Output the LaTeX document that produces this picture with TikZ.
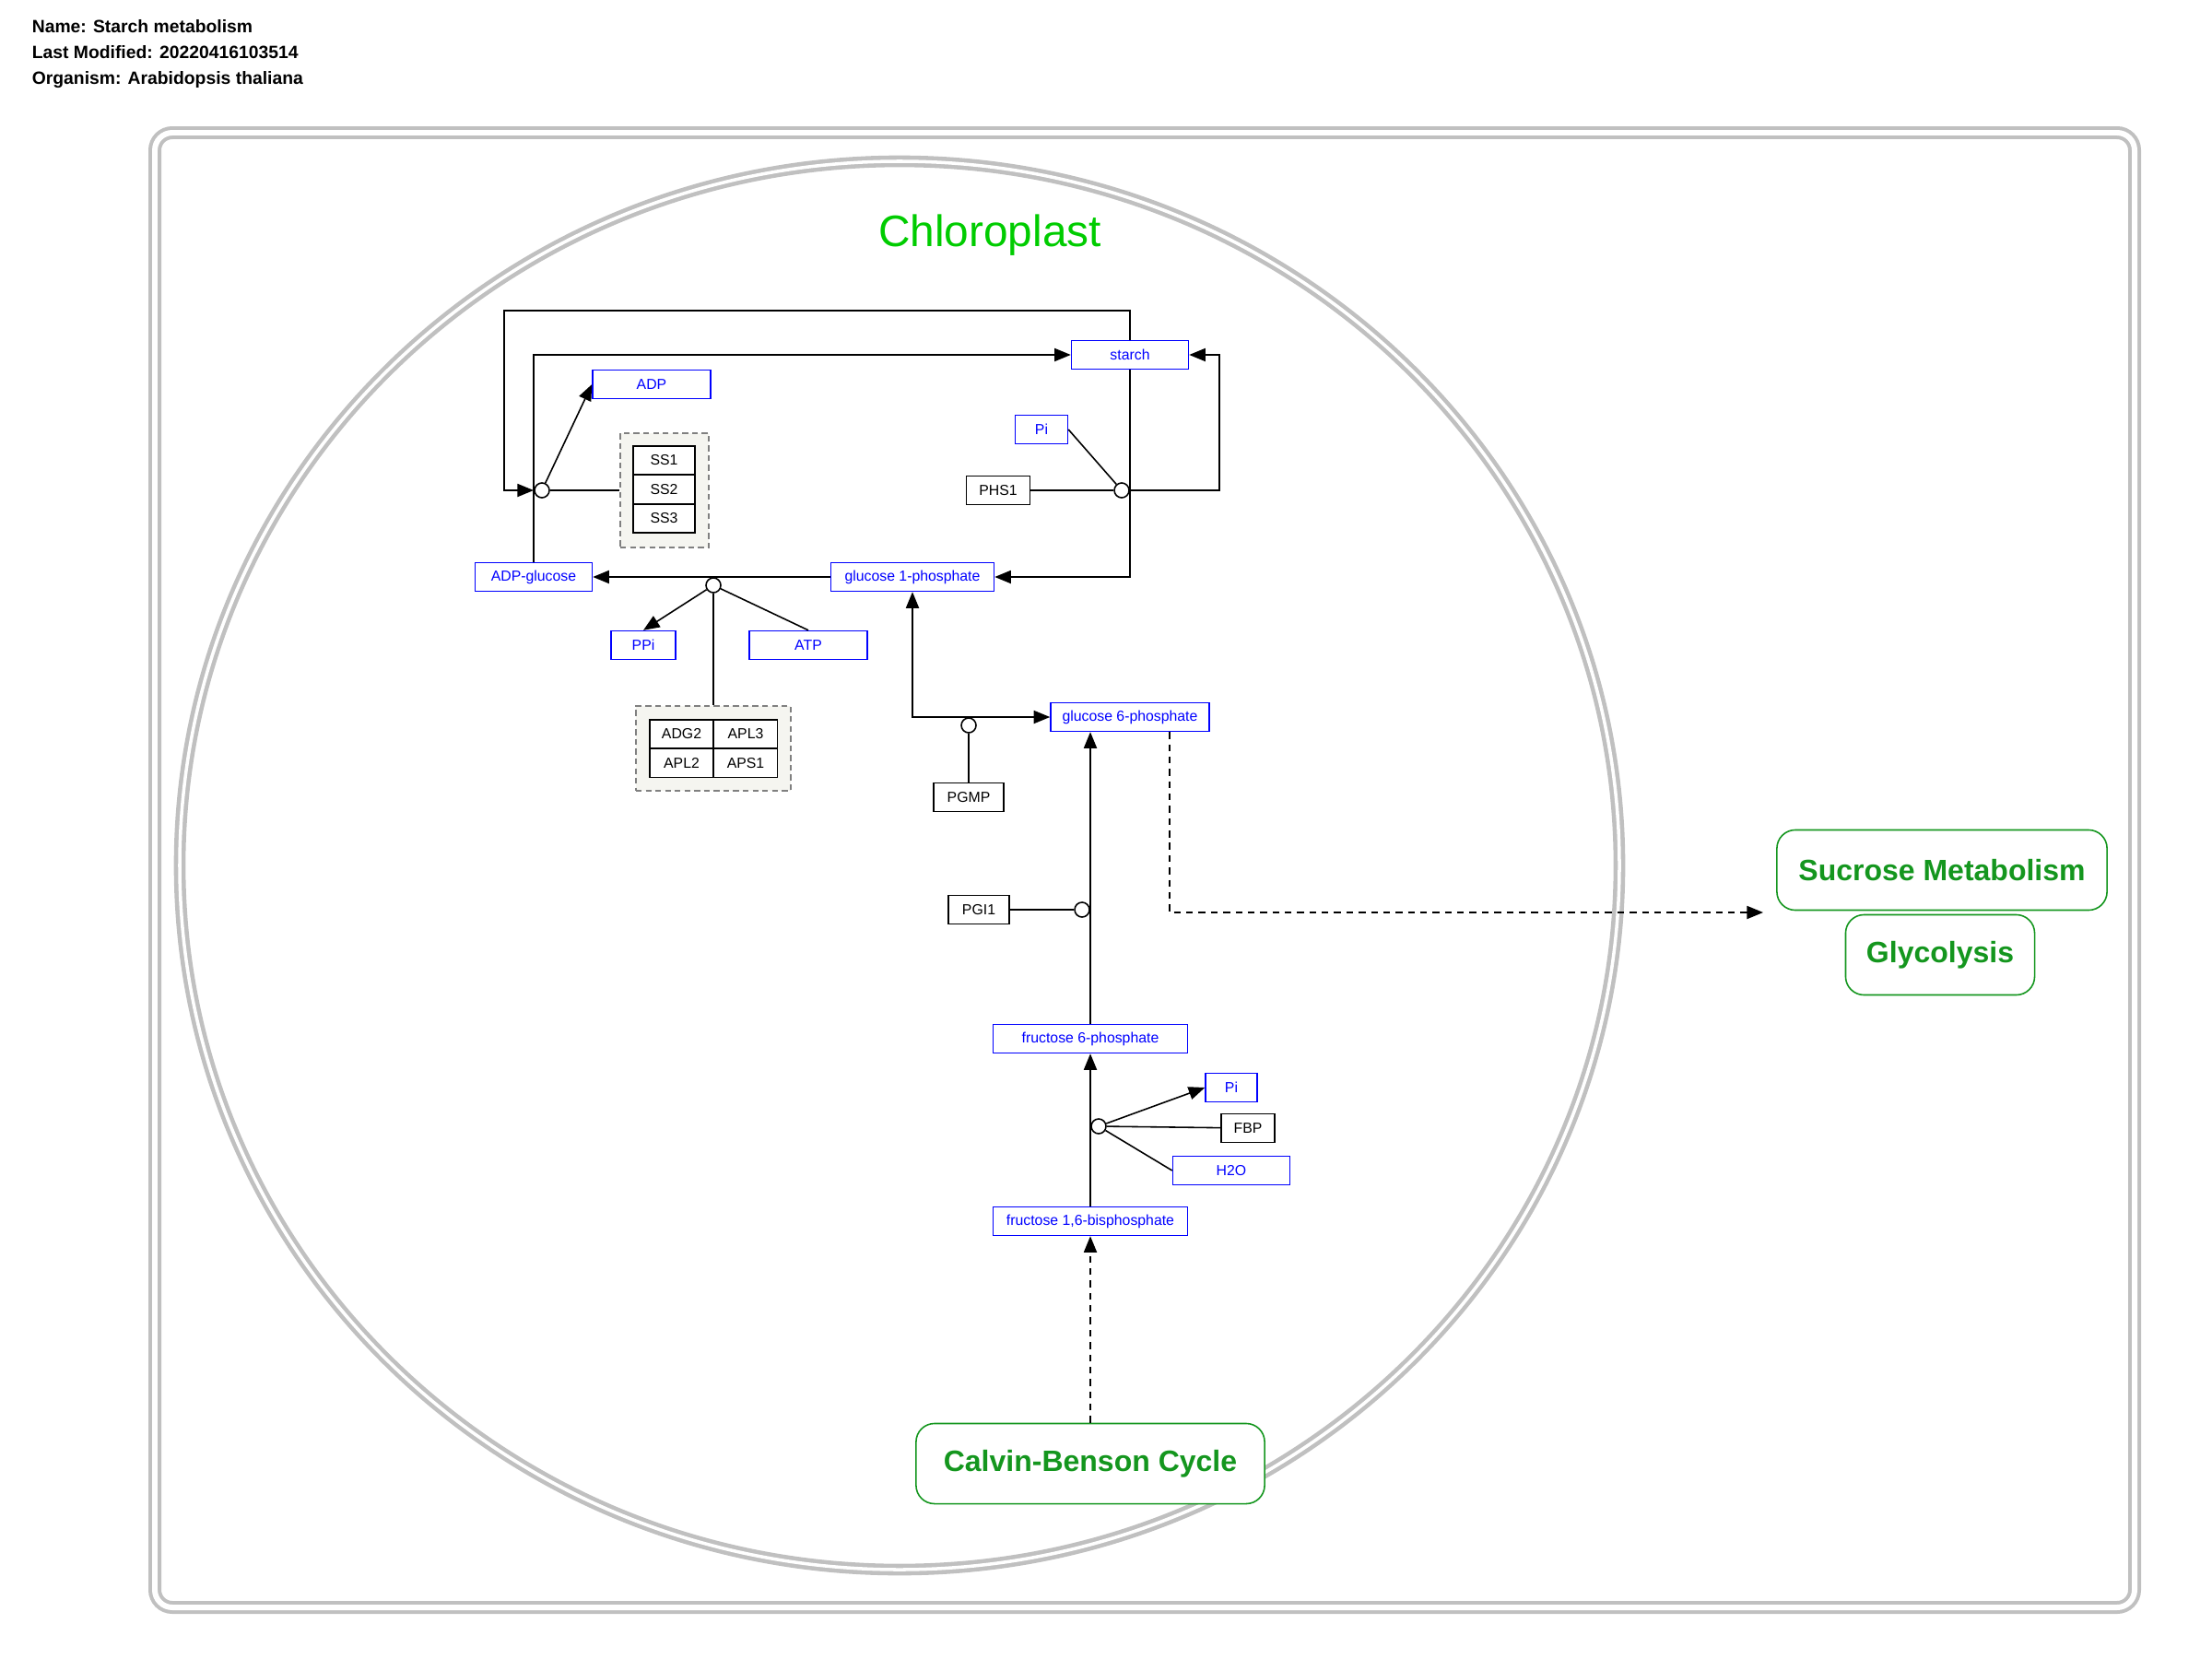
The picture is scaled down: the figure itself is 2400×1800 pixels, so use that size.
\documentclass[tikz,border=0pt]{standalone}
\usepackage{fontspec}
\setmainfont{Liberation Sans}
\usetikzlibrary{arrows.meta}

\definecolor{wallgray}{RGB}{192,192,192}
\definecolor{chlorogreen}{RGB}{0,204,0}
\definecolor{pathgreen}{RGB}{20,150,30}
\definecolor{cplxfill}{RGB}{245,245,240}

\begin{document}
\begin{tikzpicture}[x=0.01cm, y=-0.01cm, >={Triangle[length=5pt,width=4pt]}, line width=0.45pt]
\tikzstyle{box}=[rectangle, draw, line width=0.4pt, inner sep=0pt, minimum height=0.31cm, font=\fontsize{4.5}{5}\selectfont]
\tikzstyle{metabolite}=[box, draw=blue, text=blue, fill=white]
\tikzstyle{gene}=[box, draw=black, fill=white]
\tikzstyle{complex}=[rectangle, draw=black!50, line width=0.4pt, dash pattern=on 1.8pt off 1.2pt, fill=cplxfill, inner sep=0pt]
\tikzstyle{catdot}=[circle, draw, fill=white, inner sep=0pt, minimum size=0.16cm]
\tikzstyle{pathway}=[rectangle, rounded corners=0.2cm, draw=pathgreen, fill=white, text=pathgreen, line width=0.45pt, minimum height=0.87cm, font=\fontsize{9.1}{10}\selectfont\bfseries]
\tikzstyle{wall}=[draw=wallgray, double=white]
\tikzstyle{dash line}=[dash pattern=on 2.1pt off 1.7pt]
\tikzstyle{header}=[anchor=base west, inner sep=0pt, font=\fontsize{5.5}{6}\selectfont\bfseries]

\useasboundingbox (0,0) rectangle (2400,1800);

% header
\node[header] (name) at (34,36) {Name: Starch metabolism};
\node[header] (modified) at (34,64) {Last Modified: 20220416103514};
\node[header] (organism) at (34,92) {Organism: Arabidopsis thaliana};

% cell and chloroplast
\draw[wall, line width=1.14pt, double distance=1.7pt, rounded corners=0.19cm] (168,144) rectangle (2316,1744);
\draw[wall, line width=1.3pt, double distance=1pt] (976,939) ellipse [x radius=781, y radius=764];
\node[anchor=base, inner sep=0pt, text=chlorogreen, font=\fontsize{13.6}{15}\selectfont] (title) at (1074,268) {Chloroplast};

% metabolites and genes
\node[metabolite, minimum width=1.27cm] (starch) at (1226,385) {starch};
\node[metabolite, minimum width=1.28cm] (adp) at (707,417) {ADP};
\node[metabolite, minimum width=0.57cm] (pia) at (1130,466) {Pi};
\node[gene, minimum width=0.69cm] (phs) at (1083,532) {PHS1};
\node[metabolite, minimum width=1.77cm] (gonep) at (990,626) {glucose 1-phosphate};
\node[metabolite, minimum width=1.27cm] (adpglc) at (579,626) {ADP-glucose};
\node[metabolite, minimum width=0.70cm] (ppi) at (698,700) {PPi};
\node[metabolite, minimum width=1.28cm] (atp) at (877,700) {ATP};
\node[metabolite, minimum width=1.72cm] (gsixp) at (1226,778) {glucose 6-phosphate};
\node[gene, minimum width=0.76cm] (pgmp) at (1051,865) {PGMP};
\node[gene, minimum width=0.66cm] (pgi) at (1062,987) {PGI1};
\node[metabolite, minimum width=2.11cm] (fsixp) at (1183,1127) {fructose 6-phosphate};
\node[metabolite, minimum width=0.56cm] (pib) at (1336,1180) {Pi};
\node[gene, minimum width=0.58cm] (fbp) at (1354,1224) {FBP};
\node[metabolite, minimum width=1.27cm] (water) at (1336,1270) {H2O};
\node[metabolite, minimum width=2.11cm] (fbisp) at (1183,1325) {fructose 1,6-bisphosphate};

% complexes
\node[complex, minimum width=0.96cm, minimum height=1.24cm] (ssgrp) at (721,532) {};
\foreach \i in {1,2,3}
    \node[gene, minimum width=0.67cm] (ss\i) at (720.5, 468+31.5*\i) {SS\i};

\node[complex, minimum width=1.68cm, minimum height=0.92cm] (adggrp) at (774,812) {};
\foreach \gname/\gx/\gy in {ADG2/739.5/796.5, APL3/809/796.5, APL2/739.5/828, APS1/809/828}
    \node[gene, minimum width=0.69cm] (\gname) at (\gx,\gy) {\gname};

% pathways
\node[pathway, minimum width=3.78cm] (calvin) at (1183,1588) {Calvin-Benson Cycle};
\node[pathway, minimum width=3.58cm] (sucrose) at (2107,944) {Sucrose Metabolism};
\node[pathway, minimum width=2.05cm] (glyco) at (2105,1036) {Glycolysis};

% catalysis dots
\node[catdot] (dss) at (588,532) {};
\node[catdot] (dphs) at (1217,532) {};
\node[catdot] (dadg) at (774,635) {};
\node[catdot] (dpgm) at (1051,787) {};
\node[catdot] (dpgi) at (1174,987) {};
\node[catdot] (dfbp) at (1192,1222) {};

% starch synthesis
\coordinate (ssjoin) at (579,532);
\draw[->] (adpglc.north) |- (starch.west);
\draw[->] (starch.north) |- (547,337) |- (ssjoin);
\draw[->] (dss) -- (adp.west);
\draw (dss) -- (ssgrp.west);

% starch breakdown
\draw (phs.east) -- (dphs);
\draw (pia.east) -- (dphs);
\draw[->] (dphs) -- (1323,532) |- (starch.east);
\draw[->] (starch.south) |- (gonep.east);

% ADP-glucose
\draw[->] (gonep) -- (adpglc);
\draw[->] (dadg) -- (ppi.north);
\draw (dadg) -- (atp.north);
\draw (dadg) -- (adggrp.north);

% hexose phosphates
\draw[<->] (gonep.south) |- (gsixp.west);
\draw (dpgm) -- (pgmp);
\draw[->] (fsixp) -- (fsixp |- gsixp.south);
\draw (pgi) -- (dpgi);
\draw[->] (fbisp) -- (fsixp);
\draw[->] (dfbp) -- (pib.west);
\draw (fbp) -- (dfbp);
\draw (dfbp) -- (water.west);

% links to other pathways
\coordinate (sucin) at (1913,990);
\draw[->, dash line] ([xshift=0.43cm]gsixp.south) |- (sucin);
\draw[->, dash line] (calvin) -- (fbisp);

\end{tikzpicture}
\end{document}
